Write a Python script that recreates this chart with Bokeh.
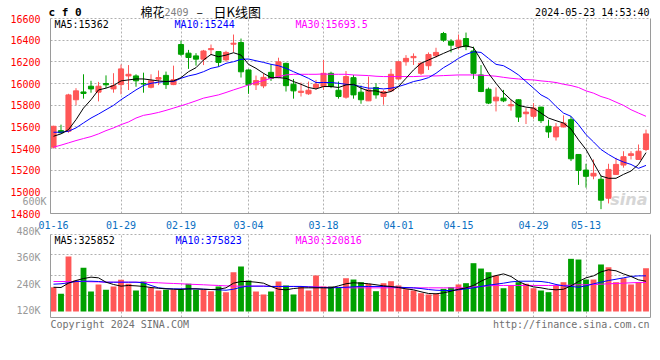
from bokeh.plotting import figure
from bokeh.models import (Range1d, LinearAxis, FixedTicker, Grid, Label,
                          ColumnDataSource, CustomJSTickFormatter)
from bokeh.embed import file_html
from bokeh.resources import INLINE

# ---------------- data ----------------
tick_idx = [0, 9, 17, 26, 36, 46, 54, 64, 71]
tick_lbl = ["01-16", "01-29", "02-19", "03-04", "03-18", "04-01", "04-15", "04-29", "05-13"]
price_ticks = [14800, 15000, 15200, 15400, 15600, 15800, 16000, 16200, 16400, 16600]
vol_ticks_k = [120, 240, 360, 480]

opens = [15412, 15565, 15560, 15850, 15922, 15975, 15920, 16000, 15950, 15990,
         16070, 16070, 16000, 15965, 16040, 16075, 15990, 16360, 16280, 16255,
         16225, 16312, 16295, 16218, 16363, 16378, 16125, 15988, 15978, 16103,
         16057, 16186, 15993, 15918, 15905, 15963, 15972, 16094, 15938, 15874,
         16054, 15920, 15840, 15963, 15880, 15932, 16042, 16201, 16238, 16094,
         16164, 16256, 16461, 16391, 16339, 16415, 16300, 16079, 15947, 15840,
         15865, 15794, 15850, 15721, 15697, 15782, 15605, 15507, 15599, 15666,
         15345, 15201, 15146, 15116, 14941, 15161, 15247, 15336, 15299, 15391]
highs = [15610, 15620, 15905, 15957, 16085, 16025, 16015, 16075, 16095, 16175,
         16170, 16085, 16100, 16085, 16120, 16110, 16165, 16395, 16310, 16280,
         16310, 16360, 16300, 16302, 16452, 16415, 16130, 16073, 16094, 16177,
         16238, 16192, 16042, 16009, 16018, 16033, 16217, 16109, 16018, 16115,
         16079, 15981, 16064, 16002, 15941, 16134, 16205, 16262, 16278, 16201,
         16287, 16330, 16476, 16409, 16452, 16470, 16340, 16170, 15963, 15963,
         15941, 15850, 15855, 15773, 15819, 15785, 15666, 15635, 15706, 15697,
         15348, 15259, 15299, 15146, 15259, 15314, 15375, 15375, 15437, 15574]
lows = [15400, 15540, 15545, 15800, 15860, 15915, 15835, 15958, 15915, 15900,
        15940, 15970, 15915, 15955, 15985, 15950, 15985, 16255, 16135, 16165,
        16170, 16262, 16155, 16200, 16287, 16055, 15905, 15940, 15957, 16024,
        16048, 15926, 15860, 15880, 15895, 15941, 15941, 15957, 15860, 15860,
        15860, 15813, 15838, 15860, 15804, 15926, 16033, 16164, 16171, 16079,
        16125, 16238, 16385, 16287, 16317, 16308, 16042, 15920, 15810, 15742,
        15828, 15749, 15645, 15626, 15675, 15635, 15498, 15473, 15595, 15284,
        15064, 15039, 15116, 14840, 14893, 15155, 15223, 15299, 15295, 15375]
closes = [15605, 15545, 15895, 15932, 15908, 15950, 15975, 15988, 15980, 16135,
          16085, 16025, 15995, 16025, 16055, 15990, 16035, 16270, 16240, 16225,
          16300, 16322, 16195, 16287, 16372, 16108, 15988, 16027, 16057, 16048,
          16200, 15980, 15932, 15929, 15938, 15993, 16094, 15972, 15880, 16064,
          15895, 15850, 15941, 15895, 15926, 16085, 16201, 16232, 16250, 16186,
          16268, 16287, 16400, 16354, 16400, 16340, 16094, 15926, 15819, 15874,
          15840, 15804, 15690, 15736, 15773, 15657, 15553, 15599, 15635, 15305,
          15198, 15143, 15171, 14923, 15207, 15253, 15324, 15351, 15375, 15535]
ma5 = [15513, 15535, 15574, 15666, 15773, 15850, 15941, 15957, 15981, 16024,
       16033, 16042, 16042, 16033, 16024, 16018, 16024, 16054, 16109, 16146,
       16217, 16268, 16247, 16262, 16284, 16262, 16177, 16140, 16094, 16054,
       16054, 16048, 16018, 15993, 15963, 15950, 15972, 15972, 15963, 15987,
       15993, 15957, 15932, 15932, 15911, 15926, 15972, 16048, 16125, 16186,
       16217, 16247, 16278, 16308, 16333, 16348, 16330, 16217, 16094, 16002,
       15915, 15850, 15798, 15782, 15773, 15727, 15681, 15657, 15635, 15580,
       15480, 15391, 15268, 15146, 15125, 15125, 15161, 15192, 15253, 15362]
ma10 = [15550, 15550, 15559, 15590, 15636, 15681, 15718, 15758, 15798, 15850,
        15895, 15941, 15981, 16002, 16012, 16018, 16018, 16048, 16070, 16085,
        16109, 16140, 16155, 16186, 16201, 16223, 16226, 16210, 16195, 16177,
        16164, 16140, 16109, 16079, 16048, 16009, 16009, 16009, 16002, 15993,
        15987, 15972, 15957, 15957, 15950, 15957, 15972, 15993, 16018, 16033,
        16054, 16094, 16146, 16186, 16232, 16268, 16293, 16287, 16232, 16177,
        16164, 16125, 16079, 16018, 15957, 15895, 15859, 15788, 15727, 15697,
        15620, 15528, 15461, 15391, 15345, 15305, 15275, 15253, 15217, 15244]
ma30 = [15412, 15431, 15452, 15473, 15492, 15510, 15535, 15565, 15590, 15620,
        15645, 15681, 15706, 15718, 15733, 15752, 15773, 15794, 15816, 15840,
        15865, 15880, 15895, 15917, 15941, 15963, 15987, 16009, 16027, 16048,
        16064, 16079, 16085, 16085, 16085, 16085, 16088, 16085, 16085, 16085,
        16079, 16076, 16073, 16067, 16064, 16064, 16064, 16064, 16064, 16067,
        16070, 16070, 16073, 16076, 16079, 16079, 16079, 16076, 16073, 16067,
        16057, 16048, 16042, 16036, 16033, 16024, 16018, 16009, 15993, 15981,
        15963, 15932, 15911, 15880, 15859, 15828, 15798, 15758, 15727, 15697]

# volume in thousands of lots
vol_k = [245, 179, 556, 313, 441, 202, 273, 219, 253, 320,
         280, 212, 303, 239, 212, 219, 219, 219, 280, 219,
         219, 205, 253, 195, 397, 455, 313, 202, 172, 202,
         303, 263, 172, 253, 212, 364, 253, 253, 239, 336,
         323, 296, 280, 205, 286, 306, 263, 225, 212, 185,
         172, 179, 229, 245, 273, 286, 488, 434, 397, 364,
         235, 263, 296, 280, 235, 212, 195, 263, 296, 532,
         525, 323, 323, 475, 447, 296, 336, 273, 296, 437]
vma5 = [245, 242, 286, 313, 333, 347, 340, 296, 273, 256,
        263, 259, 253, 242, 235, 229, 225, 222, 229, 229,
        225, 222, 225, 239, 286, 303, 303, 296, 286, 253,
        225, 219, 232, 239, 239, 239, 239, 239, 259, 280,
        290, 286, 280, 270, 259, 253, 242, 229, 219, 199,
        182, 179, 188, 205, 225, 239, 263, 306, 340, 363,
        380, 354, 303, 270, 249, 239, 225, 219, 225, 259,
        303, 340, 360, 400, 421, 411, 380, 354, 320, 306]
vma10 = [276, 280, 290, 303, 306, 306, 303, 296, 296, 296,
         296, 296, 290, 263, 239, 232, 229, 229, 229, 229,
         225, 222, 219, 215, 225, 245, 256, 256, 256, 253,
         253, 253, 253, 253, 249, 245, 242, 239, 242, 245,
         249, 253, 253, 253, 253, 249, 245, 242, 239, 232,
         222, 215, 212, 212, 219, 229, 239, 253, 266, 276,
         286, 299, 306, 306, 306, 303, 293, 273, 259, 253,
         245, 259, 280, 296, 313, 326, 340, 354, 360, 360]
vma30 = [303, 303, 303, 303, 303, 300, 299, 296, 296, 296,
         296, 296, 295, 293, 290, 286, 283, 280, 276, 273,
         270, 266, 263, 259, 256, 256, 256, 256, 256, 253,
         253, 253, 253, 253, 249, 249, 245, 245, 242, 239,
         239, 239, 239, 239, 239, 239, 239, 239, 239, 239,
         239, 239, 239, 239, 239, 239, 249, 253, 259, 263,
         263, 263, 263, 263, 263, 263, 263, 263, 263, 266,
         270, 270, 273, 276, 280, 283, 286, 290, 293, 293]

# ---------------- styling / layout (pixels on the canvas) ----------------
RED = "#ff5757"
GREEN = "#00a000"
BLUE_TXT = "#0a6fc2"
GRID = "#b0b0b0"
BORDER = "#9a9a9a"
MONO = "DejaVu Sans Mono"

W, H = 652, 332                 # canvas = frame
BOX_L, BOX_R = 50, 650          # chart box, x pixels
P_TOP, P_BOT = 18, 213          # price box, y pixels
V_TOP, V_BOT = 234, 317         # volume box, y pixels
V_BASE = 311                    # volume bar baseline pixel
PX_PER_K = 0.099                # volume bar pixels per 1000 lots

n = len(closes)
xs = list(range(n))
colors = [RED if c >= o else GREEN for o, c in zip(opens, closes)]
src = ColumnDataSource(dict(
    x=xs, high=highs, low=lows,
    top=[max(o, c) for o, c in zip(opens, closes)],
    bot=[min(o, c) for o, c in zip(opens, closes)],
    color=colors, ma5=ma5, ma10=ma10, ma30=ma30,
    vol=vol_k, vma5=vma5, vma10=vma10, vma30=vma30,
))

x0, x1 = -0.4, n - 0.4
ux = (x1 - x0) / (BOX_R - BOX_L)
x_range = Range1d(x0 - BOX_L * ux, x1 + (W - BOX_R) * ux)


def yrange(v_hi, px_hi, v_lo, px_lo):
    k = (v_hi - v_lo) / (px_lo - px_hi)
    return Range1d(v_lo - (H - px_lo) * k, v_hi + px_hi * k)


def at_px(r, px):
    return r.end - px * (r.end - r.start) / H


price_rng = yrange(price_ticks[-1], P_TOP, price_ticks[0], P_BOT)
vol_rng = yrange((V_BASE - V_TOP) / PX_PER_K, V_TOP, 0, V_BASE)
vgrid_rng = yrange(vol_ticks_k[-1], V_TOP, vol_ticks_k[0], 295)
vlab_rng = yrange(vol_ticks_k[-1], 231, vol_ticks_k[0], 310)

p = figure(width=W, height=H, x_range=x_range, y_range=price_rng,
           x_axis_type=None, y_axis_type=None,
           output_backend="svg", toolbar_location=None,
           min_border=0, min_border_left=0, min_border_right=0,
           min_border_top=0, min_border_bottom=0,
           outline_line_color=None,
           background_fill_color="white", border_fill_color="white")
p.extra_y_ranges = {"vol": vol_rng, "vgrid": vgrid_rng, "vlab": vlab_rng}

vb = (at_px(vlab_rng, V_BOT), at_px(vlab_rng, V_TOP))
vb_lab = (at_px(vlab_rng, V_BOT), at_px(vlab_rng, V_TOP - 6))
vg = (at_px(vgrid_rng, V_BOT), at_px(vgrid_rng, V_TOP))

# ---- grids ----
p.add_layout(Grid(dimension=1, ticker=FixedTicker(ticks=price_ticks),
                  cross_bounds=(x0, x1), grid_line_color=GRID,
                  grid_line_dash="2 2"))
p.add_layout(Grid(dimension=0, ticker=FixedTicker(ticks=tick_idx[1:]),
                  cross_bounds=(price_ticks[0], price_ticks[-1]),
                  grid_line_color=GRID, grid_line_dash="2 2"))
p.add_layout(Grid(dimension=1, y_range_name="vgrid",
                  ticker=FixedTicker(ticks=vol_ticks_k),
                  cross_bounds=(x0, x1), grid_line_color=GRID,
                  grid_line_dash="2 2"))
p.add_layout(Grid(dimension=0, y_range_name="vgrid",
                  ticker=FixedTicker(ticks=tick_idx[1:]), cross_bounds=vg,
                  grid_line_color=GRID, grid_line_dash="2 2"))

# ---- price glyphs ----
p.segment(x0="x", y0="low", x1="x", y1="high", color="color", line_width=1,
          source=src)
p.vbar(x="x", width=0.68, top="top", bottom="bot", fill_color="color",
       line_color="color", line_width=1, source=src)
p.line("x", "ma30", color="#ff00ff", line_width=1, source=src)
p.line("x", "ma10", color="#0000ff", line_width=1, source=src)
p.line("x", "ma5", color="#000000", line_width=1, source=src)

# ---- volume glyphs ----
p.vbar(x="x", width=0.78, top="vol", bottom=0, fill_color="color",
       line_color=None, source=src, y_range_name="vol")
p.line("x", "vma30", color="#ff00ff", line_width=1, source=src, y_range_name="vol")
p.line("x", "vma10", color="#0000ff", line_width=1, source=src, y_range_name="vol")
p.line("x", "vma5", color="#000000", line_width=1, source=src, y_range_name="vol")

# ---- axes (placed at the box edges) ----
common = dict(major_tick_line_color=None, minor_tick_line_color=None,
              axis_line_color=BORDER, major_label_text_font=MONO,
              major_label_text_font_size="10px")
yax = LinearAxis(ticker=FixedTicker(ticks=price_ticks), fixed_location=x0,
                 bounds=(price_ticks[0], price_ticks[-1]),
                 major_label_text_color="#ff0000", major_label_standoff=4,
                 **common)
p.add_layout(yax, "left")
yax_r = LinearAxis(ticker=FixedTicker(ticks=[]), fixed_location=x1,
                   bounds=(price_ticks[0], price_ticks[-1]), **common)
p.add_layout(yax_r, "right")
xax = LinearAxis(ticker=FixedTicker(ticks=tick_idx), fixed_location=price_ticks[0],
                 bounds=(x0, x1), major_label_overrides=dict(zip(tick_idx, tick_lbl)),
                 major_label_text_color=BLUE_TXT, major_label_standoff=1,
                 **common)
p.add_layout(xax, "below")
vax = LinearAxis(y_range_name="vlab", ticker=FixedTicker(ticks=vol_ticks_k),
                 fixed_location=x0, bounds=vb_lab,
                 formatter=CustomJSTickFormatter(code="return tick + 'K'"),
                 major_label_text_color="#999999", major_label_standoff=4,
                 **{**common, "axis_line_color": None})
p.add_layout(vax, "left")
vax_l = LinearAxis(y_range_name="vlab", ticker=FixedTicker(ticks=[]),
                   fixed_location=x0, bounds=vb, **common)
p.add_layout(vax_l, "left")
vax_r = LinearAxis(y_range_name="vlab", ticker=FixedTicker(ticks=[]),
                   fixed_location=x1, bounds=vb, **common)
p.add_layout(vax_r, "right")
vxax = LinearAxis(ticker=FixedTicker(ticks=[]),
                  fixed_location=at_px(price_rng, V_BOT), bounds=(x0, x1),
                  **common)
p.add_layout(vxax, "below")


# ---- texts (screen units; frame == canvas, y measured from the bottom) ----
def label(px, py, text, color, size="10px", font=MONO, align="left",
          style="normal"):
    p.add_layout(Label(x=px, y=H - py, x_units="screen", y_units="screen",
                       text=text, text_color=color, text_font_size=size,
                       text_font=font, text_align=align,
                       text_baseline="middle", text_font_style=style))


label(48, 11.5, "c f 0", "#000000", size="11px", style="bold")
label(140, 11, "棉花", "#000000", size="12px", font="Noto Sans CJK SC")
label(164, 11.5, "2409", "#808080", size="10px")
label(196, 11, "–", "#000000", size="12px", font="Noto Sans CJK SC")
label(213, 11, "日K线图", "#000000", size="13px", font="Noto Sans CJK SC")
label(649, 11.5, "2024-05-23 14:53:40", "#000000", align="right")
label(54, 24, "MA5:15362", "#000000")
label(174, 24, "MA10:15244", "#0000ff")
label(295, 24, "MA30:15693.5", "#ff00ff")
label(46, 201, "600K", "#999999", align="right")
label(647, 199, "sina", "#d6d6d6", size="16px", font="DejaVu Sans",
      align="right", style="bold italic")
label(54, 239.5, "MA5:325852", "#000000")
label(175, 239.5, "MA10:375823", "#0000ff")
label(295, 239.5, "MA30:320816", "#ff00ff")
label(50, 324, "Copyright 2024 SINA.COM", "#707070")
label(649, 324, "http://finance.sina.com.cn", "#707070", align="right")

open("out.html", "w").write(file_html(p, INLINE, title="cf0"))
